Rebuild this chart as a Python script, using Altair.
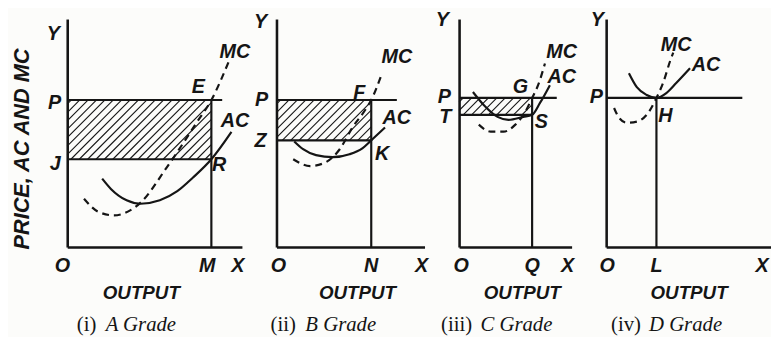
import altair as alt
import pandas as pd
import numpy as np

# ---------------- data (diagram units: output 0-10, cost 0-10) ----------------
# Panel (i) A Grade
a_ac_q = [2.0, 2.5, 3.4, 4.2, 5.3, 6.3, 7.2, 8.25, 9.4]
a_ac_c = [3.0, 2.55, 2.05, 1.9, 2.05, 2.45, 3.05, 3.85, 5.05]
a_mc_q = [0.96, 1.75, 2.66, 4.2, 5.71, 6.33, 7.4, 8.25, 9.27]
a_mc_c = [2.12, 1.56, 1.39, 1.95, 3.51, 4.2, 5.45, 6.45, 8.18]
a_price, a_cost, a_qty, a_pend = 6.45, 3.85, 8.25, 8.87

# Panel (ii) B Grade
b_ac_q = [1.2, 1.8, 2.67, 3.8, 4.93, 5.8, 6.4, 7.33]
b_ac_c = [4.63, 4.29, 4.03, 3.94, 4.07, 4.33, 4.68, 5.24]
b_mc_q = [1.13, 2.27, 3.33, 4.27, 5.13, 6.0, 6.4, 7.13]
b_mc_c = [3.85, 3.55, 3.72, 4.29, 5.24, 6.02, 6.45, 7.62]
b_price, b_cost, b_qty, b_pend = 6.45, 4.68, 6.4, 8.13

# Panel (iii) C Grade
c_ac_q = [1.23, 2.19, 3.42, 4.39, 5.7, 6.49, 7.19, 8.07]
c_ac_c = [6.8, 6.23, 5.71, 5.58, 5.71, 5.8, 6.32, 7.1]
c_mc_q = [1.75, 2.81, 3.95, 5.0, 5.88, 6.49, 7.02, 7.63]
c_mc_c = [5.37, 5.06, 5.06, 5.37, 5.93, 6.54, 7.1, 8.05]
c_price, c_cost, c_qty, c_pend = 6.54, 5.8, 6.49, 8.68

# Panel (iv) D Grade
d_ac_q = [1.38, 1.86, 2.46, 3.05, 3.65, 4.25, 5.09]
d_ac_c = [7.62, 7.01, 6.67, 6.54, 6.75, 7.19, 7.84]
d_mc_q = [0.48, 0.78, 1.26, 1.86, 2.46, 3.05, 3.47, 3.89, 4.07]
d_mc_c = [6.1, 5.67, 5.45, 5.5, 5.8, 6.54, 7.23, 8.18, 8.53]
d_price, d_qty, d_pend = 6.54, 3.05, 8.26

# annotation texts and their anchor points (diagram units)
a_labels = {"text": ["E", "R", "AC", "MC", "O", "M", "X", "Y", "P", "J"],
            "q": [7.51, 8.7, 9.6, 9.6, -0.28, 8.02, 9.77, -0.8, -0.73, -0.68],
            "c": [7.01, 3.59, 5.54, 8.53, -0.82, -0.82, -0.82, 9.35, 6.32, 3.64]}
b_labels = {"text": ["F", "K", "AC", "MC", "O", "N", "X", "Y", "P", "Z"],
            "q": [5.6, 7.13, 8.13, 8.13, 0.13, 6.4, 9.8, -1.07, -1.0, -1.07],
            "c": [6.75, 4.07, 5.67, 8.31, -0.82, -0.82, -0.82, 9.85, 6.45, 4.63]}
c_labels = {"text": ["G", "S", "AC", "MC", "O", "Q", "X", "Y", "P", "T"],
            "q": [5.44, 7.3, 9.12, 9.12, 0.18, 6.49, 9.65, -1.49, -1.32, -1.23],
            "c": [7.01, 5.5, 7.45, 8.53, -0.82, -0.82, -0.82, 9.95, 6.58, 5.71]}
d_labels = {"text": ["H", "AC", "MC", "O", "L", "X", "Y", "P"],
            "q": [3.59, 6.05, 4.25, 0.06, 3.05, 9.46, -0.54, -0.6],
            "c": [5.76, 7.97, 8.87, -0.82, -0.82, -0.82, 9.95, 6.58]}

y_title = "PRICE, AC AND MC"
x_title = "OUTPUT"
roman = ["(i)", "(ii)", "(iii)", "(iv)"]
italic = ["A Grade", "B Grade", "C Grade", "D Grade"]

# ---------------- layout / style ----------------
H = 231
WIDTHS = [177, 150, 114, 167]
INK = "#151515"
LBL_FONT = "Liberation Sans"
CAP_FONT = "Liberation Serif"

xs = alt.Scale(domain=[0, 10], nice=False, zero=False)
ys = alt.Scale(domain=[0, 10], nice=False, zero=False)


def X(f):
    return alt.X(f, type="quantitative", scale=xs, title=None)


def Y(f):
    return alt.Y(f, type="quantitative", scale=ys, title=None)


def hatch(w, x0, x1, y0, y1, gap=8.5):
    kx, ky = w / 10.0, H / 10.0
    wp, hp = (x1 - x0) * kx, (y1 - y0) * ky
    rows = []
    for c in np.arange(-hp + gap / 2, wp, gap):
        ya, yb = max(0.0, -c), min(hp, wp - c)
        if yb <= ya:
            continue
        rows.append({"x": x0 + (ya + c) / kx, "x2": x0 + (yb + c) / kx,
                     "y": y0 + ya / ky, "y2": y0 + yb / ky})
    return pd.DataFrame(rows)


def panel(i, ac_q, ac_c, mc_q, mc_c, price, cost, qty, pend, labels,
          out_q, cap_q1, cap_q2, ytitle=False):
    w = WIDTHS[i]
    layers = []
    segs = [{"x": 0, "x2": pend, "y": price, "y2": price},
            {"x": qty, "x2": qty, "y": 0, "y2": price}]
    if cost is not None:
        segs.append({"x": 0, "x2": qty, "y": cost, "y2": cost})
        hd = hatch(w, 0, qty, cost, price)
        layers.append(alt.Chart(hd).mark_rule(color=INK, strokeWidth=1.1).encode(
            x=X("x"), x2="x2", y=Y("y"), y2="y2"))
    layers.append(alt.Chart(pd.DataFrame(segs)).mark_rule(color=INK, strokeWidth=2.2).encode(
        x=X("x"), x2="x2", y=Y("y"), y2="y2"))
    layers.append(alt.Chart(pd.DataFrame({"q": ac_q, "c": ac_c})).mark_line(
        color=INK, strokeWidth=2.2, interpolate="monotone").encode(x=X("q"), y=Y("c")))
    layers.append(alt.Chart(pd.DataFrame({"q": mc_q, "c": mc_c})).mark_line(
        color=INK, strokeWidth=2.2, strokeDash=[7, 5], interpolate="monotone").encode(
        x=X("q"), y=Y("c")))
    layers.append(alt.Chart(pd.DataFrame(labels)).mark_text(
        font=LBL_FONT, fontSize=20, fontWeight="bold", fontStyle="italic", color=INK,
        align="center", baseline="middle").encode(x=X("q"), y=Y("c"), text="text:N"))
    layers.append(alt.Chart(pd.DataFrame({"t": [x_title], "q": [out_q], "c": [-2.03]})).mark_text(
        font=LBL_FONT, fontSize=19, fontWeight="bold", fontStyle="italic", color=INK,
        align="center", baseline="middle").encode(x=X("q"), y=Y("c"), text="t:N"))
    layers.append(alt.Chart(pd.DataFrame({"t": [roman[i]], "q": [cap_q1], "c": [-3.42]})).mark_text(
        font=CAP_FONT, fontSize=21, color=INK, align="left", baseline="middle").encode(
        x=X("q"), y=Y("c"), text="t:N"))
    layers.append(alt.Chart(pd.DataFrame({"t": [italic[i]], "q": [cap_q2], "c": [-3.42]})).mark_text(
        font=CAP_FONT, fontSize=21, fontStyle="italic", color=INK, align="left",
        baseline="middle").encode(x=X("q"), y=Y("c"), text="t:N"))
    if ytitle:
        layers.append(alt.Chart(pd.DataFrame({"t": [y_title], "q": [-2.6], "c": [4.3]})).mark_text(
            font=LBL_FONT, fontSize=22, fontWeight="bold", fontStyle="italic", color=INK,
            angle=270, align="center", baseline="middle").encode(x=X("q"), y=Y("c"), text="t:N"))
    return alt.layer(*layers).properties(width=w, height=H)


p1 = panel(0, a_ac_q, a_ac_c, a_mc_q, a_mc_c, a_price, a_cost, a_qty, a_pend, a_labels,
           4.24, 0.55, 2.2, ytitle=True)
p2 = panel(1, b_ac_q, b_ac_c, b_mc_q, b_mc_c, b_price, b_cost, b_qty, b_pend, b_labels,
           5.47, -0.4, 1.95)
p3 = panel(2, c_ac_q, c_ac_c, c_mc_q, c_mc_c, c_price, c_cost, c_qty, c_pend, c_labels,
           5.61, -1.6, 1.9)
p4 = panel(3, d_ac_q, d_ac_c, d_mc_q, d_mc_c, d_price, None, d_qty, d_pend, d_labels,
           5.03, 0.3, 2.6)

chart = alt.hconcat(p1, p2, p3, p4, spacing=35, bounds="flush").properties(
    padding={"left": 2, "top": 0, "right": 0, "bottom": 2},
    background="#fcfcfa",
).configure_view(stroke=None).configure_axis(
    grid=False, ticks=False, labels=False, domainColor=INK, domainWidth=2.6, title=None
)

chart.save("out.html", embed_options={"renderer": "svg", "actions": False})
